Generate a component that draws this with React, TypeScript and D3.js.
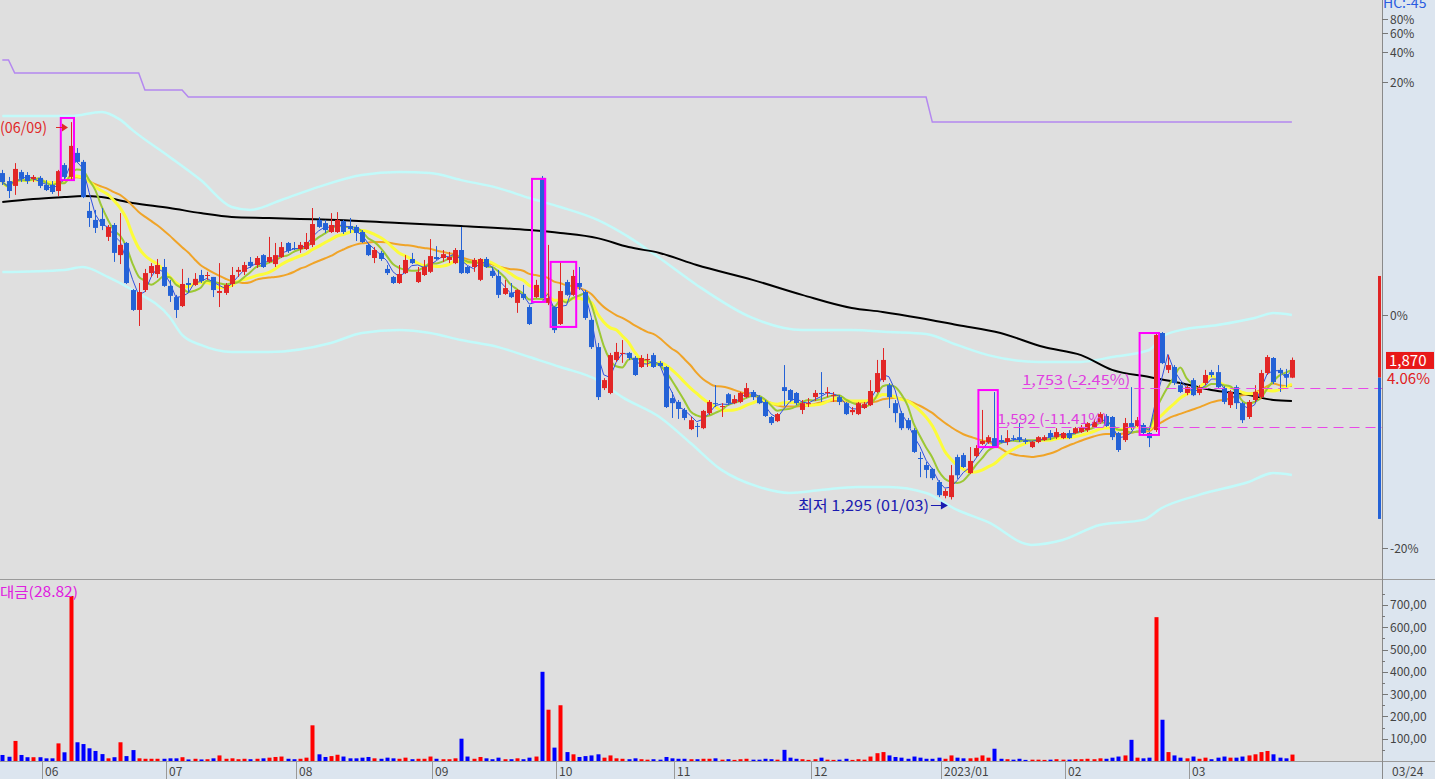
import React from 'react';
import * as d3 from 'd3';

// ---- candle data (daily, 2022/05/23 .. 2023/03/24) ----
const opens = [
  2640,2607,2587,2644,2632,2616,2620,2591,2591,2566,
  2673,2624,2723,2686,2484,2447,2451,2377,2426,2302,
  2352,2158,2076,2158,2228,2224,2253,2175,2129,2092,
  2187,2179,2220,2216,2212,2146,2146,2183,2233,2233,
  2274,2261,2302,2274,2265,2294,2352,2331,2327,2327,
  2344,2447,2434,2397,2397,2442,2422,2418,2397,2344,
  2290,2311,2245,2212,2187,2228,2286,2191,2220,2233,
  2294,2290,2282,2269,2323,2253,2253,2200,2286,2237,
  2216,2142,2146,2105,2142,2088,2129,2620,2105,2088,
  2018,2191,2138,2187,2150,2035,1923,1754,1734,1870,
  1895,1899,1878,1841,1870,1890,1858,1841,1713,1697,
  1664,1585,1598,1589,1651,1692,1676,1729,1692,1697,
  1717,1738,1717,1697,1635,1618,1758,1746,1734,1664,
  1688,1717,1734,1734,1721,1717,1692,1655,1647,1672,
  1684,1738,1787,1766,1692,1651,1622,1581,1466,1437,
  1421,1367,1310,1305,1470,1478,1404,1474,1524,1532,
  1548,1540,1532,1548,1552,1536,1511,1532,1540,1569,
  1552,1548,1569,1569,1573,1581,1594,1614,1639,1635,
  1569,1540,1610,1598,1602,1569,1581,1981,1829,1841,
  1766,1734,1787,1734,1775,1820,1820,1754,1684,1758,
  1692,1635,1705,1717,1816,1878,1829,1812,1797
];
const highs = [
  2653,2624,2681,2653,2644,2632,2628,2611,2607,2653,
  2681,2850,2743,2694,2521,2488,2496,2426,2434,2475,
  2356,2162,2187,2245,2269,2286,2286,2200,2138,2245,
  2208,2228,2241,2233,2212,2269,2187,2253,2253,2274,
  2294,2298,2306,2377,2352,2356,2356,2356,2356,2393,
  2496,2459,2447,2475,2479,2447,2455,2426,2405,2352,
  2335,2319,2261,2216,2261,2302,2311,2253,2282,2368,
  2339,2323,2315,2331,2418,2257,2290,2290,2294,2253,
  2241,2200,2187,2162,2179,2096,2200,2628,2344,2092,
  2274,2200,2241,2253,2158,2039,1940,1795,1899,1940,
  1952,1903,1886,1890,1895,1899,1866,1845,1738,1705,
  1672,1635,1610,1664,1705,1766,1692,1734,1725,1738,
  1775,1746,1725,1705,1639,1651,1849,1750,1738,1705,
  1713,1746,1820,1758,1738,1725,1697,1676,1697,1697,
  1787,1870,1919,1775,1705,1660,1631,1589,1491,1450,
  1425,1375,1340,1437,1480,1487,1511,1519,1664,1560,
  1738,1560,1581,1560,1610,1548,1536,1556,1560,1581,
  1589,1573,1581,1594,1602,1614,1627,1655,1647,1639,
  1573,1631,1758,1635,1610,1573,1981,1985,1890,1849,
  1779,1766,1795,1766,1829,1829,1849,1762,1746,1766,
  1697,1705,1766,1829,1890,1882,1837,1833,1880
];
const lows = [
  2591,2537,2550,2603,2595,2603,2578,2566,2554,2545,
  2611,2611,2681,2537,2418,2393,2405,2360,2274,2265,
  2183,2072,2010,2150,2212,2208,2171,2109,2043,2088,
  2146,2175,2187,2200,2129,2088,2138,2171,2212,2220,
  2249,2249,2249,2269,2253,2290,2311,2323,2311,2323,
  2335,2414,2393,2393,2393,2389,2393,2360,2352,2298,
  2269,2278,2220,2183,2183,2224,2265,2187,2216,2228,
  2282,2274,2269,2265,2224,2224,2233,2195,2249,2208,
  2125,2138,2125,2064,2117,2014,2125,2125,2096,1981,
  2014,2134,2134,2158,2035,1915,1705,1746,1729,1862,
  1858,1870,1804,1837,1841,1837,1841,1672,1631,1627,
  1622,1581,1552,1585,1643,1676,1635,1684,1688,1692,
  1713,1705,1688,1635,1602,1614,1680,1696,1684,1647,
  1676,1701,1697,1717,1697,1684,1643,1643,1643,1668,
  1680,1734,1779,1672,1613,1581,1581,1487,1387,1383,
  1375,1305,1300,1295,1380,1425,1400,1470,1519,1524,
  1507,1527,1519,1536,1532,1524,1507,1527,1536,1540,
  1544,1544,1544,1565,1569,1573,1589,1606,1594,1540,
  1491,1532,1581,1594,1560,1511,1573,1853,1816,1767,
  1734,1725,1721,1725,1766,1799,1754,1688,1672,1668,
  1610,1627,1697,1709,1808,1771,1738,1758,1795
];
const closes = [
  2603,2566,2657,2616,2607,2624,2587,2570,2562,2648,
  2624,2752,2686,2541,2455,2414,2422,2418,2311,2344,
  2187,2076,2150,2228,2257,2261,2175,2134,2076,2183,
  2179,2204,2195,2220,2158,2154,2179,2220,2241,2261,
  2257,2290,2253,2294,2302,2335,2319,2327,2344,2356,
  2430,2418,2405,2426,2447,2397,2409,2393,2356,2302,
  2323,2286,2228,2187,2224,2282,2269,2233,2253,2298,
  2286,2306,2294,2323,2228,2228,2282,2286,2253,2216,
  2138,2166,2129,2158,2125,2018,2179,2125,2125,1993,
  2154,2138,2216,2171,2043,1923,1717,1787,1890,1903,
  1899,1878,1808,1878,1874,1841,1845,1676,1692,1668,
  1631,1622,1594,1660,1697,1688,1680,1692,1709,1734,
  1754,1717,1692,1639,1610,1647,1742,1705,1692,1692,
  1692,1734,1729,1738,1725,1697,1647,1664,1692,1688,
  1742,1816,1870,1717,1651,1589,1589,1491,1462,1417,
  1383,1313,1330,1395,1395,1429,1454,1507,1536,1552,
  1511,1532,1548,1544,1540,1532,1532,1552,1552,1552,
  1573,1569,1548,1589,1594,1610,1614,1647,1598,1552,
  1499,1610,1594,1622,1569,1548,1973,1857,1849,1775,
  1738,1758,1725,1758,1808,1808,1758,1697,1738,1692,
  1622,1697,1738,1816,1882,1779,1816,1797,1870
];
// trading value (거래대금)
const volumes = [
  27,19,90,27,17,17,17,12,12,79,
  39,740,84,76,57,45,31,12,17,84,
  22,49,12,10,10,10,10,12,12,17,
  7,10,7,8,12,25,10,12,8,10,
  8,10,12,15,18,20,10,8,10,15,
  160,30,18,22,28,20,12,12,15,18,
  12,10,15,12,10,15,8,10,10,20,
  10,8,8,12,100,20,10,18,12,8,
  15,8,8,12,8,15,20,400,230,60,
  250,40,30,18,22,25,30,15,25,12,
  10,8,12,8,6,8,6,18,12,10,
  10,8,8,10,10,12,6,8,5,8,
  10,6,6,10,8,6,50,15,10,8,
  5,8,15,6,5,6,10,5,8,6,
  20,35,40,25,18,15,10,20,15,10,
  10,15,10,25,15,12,12,15,25,15,
  55,10,8,6,10,5,6,6,5,6,
  8,6,6,8,8,10,8,12,10,15,
  20,25,95,15,12,15,645,185,40,25,
  15,12,20,10,15,8,15,20,15,15,
  20,25,30,40,45,30,15,12,28.82
];

// month ticks (index of first trading day)
const monthTickIdx = [7, 27, 48, 70, 90, 109, 131, 152, 172, 192];
const monthLabels = ['06', '07', '08', '09', '10', '11', '12', '2023/01', '02', '03'];

// smooth indicator lines: [candle index, price]
const upperBand: [number, number][] = [
  [0, 2875], [11, 2875], [16, 2892], [19, 2860], [21, 2817], [27, 2706], [32, 2611], [37, 2500],
  [40, 2488], [45, 2529], [51, 2583], [58, 2632], [64, 2644], [69, 2640], [74, 2611],
  [80, 2578], [85, 2537], [90, 2500], [96, 2447], [101, 2377], [106, 2290], [112, 2179],
  [121, 2043], [129, 1993], [137, 1993], [143, 1985], [149, 1977], [154, 1932], [159, 1890],
  [167, 1862], [174, 1862], [179, 1882], [185, 1911], [187, 1965], [190, 1993], [196, 2014],
  [202, 2043], [205, 2063], [208, 2055]
];
const lowerBand: [number, number][] = [
  [0, 2232], [10, 2241], [13, 2253], [17, 2212], [21, 2158], [27, 2047], [29, 1973], [32, 1932],
  [37, 1903], [43, 1903], [53, 1940], [58, 1981], [64, 1993], [69, 1981], [74, 1952],
  [80, 1923], [85, 1882], [90, 1841], [96, 1787], [100, 1717], [106, 1635], [111, 1528],
  [116, 1417], [122, 1347], [127, 1322], [132, 1334], [138, 1347], [143, 1347], [149, 1322],
  [154, 1252], [159, 1202], [166, 1108], [171, 1128], [177, 1190], [184, 1211], [187, 1260],
  [193, 1314], [201, 1367], [205, 1404], [208, 1396]
];
const longMA: [number, number][] = [
  [0, 2521], [5, 2533], [10, 2541], [13, 2545], [16, 2541], [21, 2517], [27, 2496], [32, 2475],
  [37, 2459], [43, 2455], [48, 2451], [54, 2447], [64, 2434], [74, 2422], [85, 2405],
  [90, 2393], [96, 2372], [101, 2335], [106, 2311], [112, 2261], [121, 2200], [129, 2138],
  [137, 2084], [142, 2068], [148, 2043], [154, 2014], [161, 1981], [168, 1923], [174, 1890],
  [179, 1829], [185, 1800], [190, 1775], [195, 1746], [201, 1726], [205, 1705], [208, 1701]
];
// 52-week high steps: [from index, price]
const highSteps: [number, number][] = [[0, 3106], [2, 3052], [23, 2982], [30, 2953], [150, 2850]];

// highlight boxes: [from idx, to idx, top price, bottom price]
const boxes: [number, number, number, number][] = [
  [10, 11, 2867, 2611],
  [86, 87, 2616, 2109],
  [89, 92, 2274, 2006],
  [158, 160, 1746, 1511],
  [184, 186, 1981, 1561]
];

const refLines = [
  { price: 1753, label: '1,753 (-2.45%)', from: 165, width: 108 },
  { price: 1592, label: '1,592 (-11.41%)', from: 161, width: 110 }
];
const pctTicks = [80, 60, 40, 20, 0, -20];
const volTicks = [100, 200, 300, 400, 500, 600, 700];
const volMinor = [50, 150, 250, 350, 450, 550, 650, 750];
const lastPrice = 1870;
const lastChange = '4.06%';
const rangeBar = { top: 2216, mid: 1797, bottom: 1215 };

const FONT = "'Noto Sans CJK KR', 'DejaVu Sans', sans-serif";

export default function App() {
  const W = 1435;
  const H = 779;
  const plotR = 1382;
  const priceBottom = 578;
  const volTop = 580;
  const volBottom = 761;

  const n = closes.length;
  const x = d3.scaleLinear().domain([0, n - 1]).range([2.3, 1291.9]);
  const y = d3.scaleLinear().domain([1293, 2529]).range([500, 200]);
  const pctY = d3.scaleLinear().domain([-20, 0, 20, 40, 60, 80]).range([548, 315, 82, 52, 33, 19]);
  const vY = d3.scaleLinear().domain([0, 700]).range([volBottom, 604.9]);

  const ma = (p: number) =>
    closes.map((_, i) => [i, d3.mean(closes.slice(Math.max(0, i - p + 1), i + 1)) as number] as [number, number]);

  const straight = d3.line<[number, number]>().x(d => x(d[0])).y(d => y(d[1]));
  const smooth = d3.line<[number, number]>().x(d => x(d[0])).y(d => y(d[1])).curve(d3.curveMonotoneX);

  const highLine: [number, number][] = closes.map((_, i) => {
    let v = highSteps[0][1];
    for (const s of highSteps) if (i >= s[0]) v = s[1];
    return [i, v];
  });

  const bw = 5;
  const upColor = '#e22626';
  const downColor = '#2462d6';
  const snap = (v: number) => Math.round(v) + 0.5;

  const lowY = y(1295);
  const lowX = x(153);
  const hiY = y(2850);

  return (
    <div style={{ position: 'absolute', left: 0, top: 0, width: W, height: H }}>
      <svg width={W} height={H} style={{ display: 'block', fontFamily: FONT }}>
        <defs>
          <clipPath id="pclip"><rect x={0} y={0} width={plotR} height={priceBottom} /></clipPath>
          <clipPath id="vclip"><rect x={0} y={volTop} width={plotR} height={volBottom - volTop} /></clipPath>
        </defs>
        {/* backgrounds */}
        <rect x={0} y={0} width={W} height={H} fill="#dfdfdf" />
        <rect x={plotR} y={0} width={W - plotR} height={H} fill="#dce5ef" />
        <rect x={0} y={volBottom + 1} width={W} height={H - volBottom - 1} fill="#dce5ef" />

        {/* price panel */}
        <g clipPath="url(#pclip)">
          <path d={smooth(upperBand) || ''} fill="none" stroke="#c2fafa" strokeWidth={2.5} />
          <path d={smooth(lowerBand) || ''} fill="none" stroke="#c2fafa" strokeWidth={2.5} />
          <path d={straight(highLine) || ''} fill="none" stroke="#b488f0" strokeWidth={1.5} />
          <path d={smooth(longMA) || ''} fill="none" stroke="#000" strokeWidth={2} />
          <path d={smooth(ma(20)) || ''} fill="none" stroke="#f0a428" strokeWidth={2} />
          <path d={smooth(ma(10)) || ''} fill="none" stroke="#fcfc3a" strokeWidth={3} />
          <path d={smooth(ma(5)) || ''} fill="none" stroke="#9cc834" strokeWidth={2} />
          <path d={straight(ma(3)) || ''} fill="none" stroke="#3050e0" strokeWidth={1} />

          {closes.map((c, i) => {
            const o = opens[i];
            const up = c >= o;
            const col = up ? upColor : downColor;
            const cx = Math.round(x(i));
            const hi = Math.max(highs[i], o, c);
            const lo = Math.min(lows[i], o, c);
            const top = y(Math.max(o, c));
            const bot = y(Math.min(o, c));
            return (
              <g key={i}>
                <line x1={cx + 0.5} x2={cx + 0.5} y1={y(hi)} y2={y(lo)} stroke={col} strokeWidth={1} />
                <rect x={cx - 2} y={top} width={bw} height={Math.max(1, bot - top)} fill={col} />
              </g>
            );
          })}

          {boxes.map((b, k) => (
            <rect key={k} x={x(b[0]) - 3.5} y={y(b[2])} width={x(b[1]) - x(b[0]) + 7}
              height={y(b[3]) - y(b[2])} fill="none" stroke="#ff00ff" strokeWidth={2} />
          ))}

          {refLines.map((r, k) => (
            <g key={k}>
              <line x1={x(r.from) - 3} x2={plotR} y1={snap(y(r.price))} y2={snap(y(r.price))} stroke="#e848e8"
                strokeWidth={1} strokeDasharray="10,6" />
              <text x={x(r.from) - 3} y={y(r.price) - 3} fill="#e040e0" fontSize={14}
                textLength={r.width} lengthAdjust="spacingAndGlyphs">{r.label}</text>
            </g>
          ))}

          {/* high / low annotations */}
          <text x={0} y={hiY + 11} fill="#e02828" fontSize={15} textLength={47} lengthAdjust="spacingAndGlyphs">(06/09)</text>
          <line x1={56} x2={63} y1={snap(hiY + 5)} y2={snap(hiY + 5)} stroke="#e02828" strokeWidth={1} />
          <path d={`M${68},${snap(hiY + 5)} L${62},${snap(hiY + 5) - 4} L${62},${snap(hiY + 5) + 4} Z`} fill="#e02828" />

          <text x={lowX - 22} y={lowY + 11} fill="#1a1ab0" fontSize={15} textAnchor="end"
            textLength={131} lengthAdjust="spacingAndGlyphs">최저 1,295 (01/03)</text>
          <line x1={lowX - 20} x2={lowX - 9} y1={snap(lowY + 5)} y2={snap(lowY + 5)} stroke="#1a1ab0" strokeWidth={1} />
          <path d={`M${lowX - 3},${snap(lowY + 5)} L${lowX - 10},${snap(lowY + 5) - 4} L${lowX - 10},${snap(lowY + 5) + 4} Z`} fill="#1a1ab0" />
        </g>

        {/* volume panel */}
        <g clipPath="url(#vclip)">
          {volumes.map((v, i) => {
            const up = closes[i] >= opens[i];
            return (
              <rect key={i} x={Math.round(x(i)) - 1.5} y={vY(v)} width={4} height={vY(0) - vY(v)}
                fill={up ? '#ff0000' : '#0000ff'} />
            );
          })}
        </g>
        <text x={0} y={597} fill="#e020e0" fontSize={14} textLength={78} lengthAdjust="spacingAndGlyphs">대금(28.82)</text>

        {/* frame lines */}
        <line x1={0} x2={W} y1={579.5} y2={579.5} stroke="#9a9a9a" strokeWidth={1} />
        <line x1={0} x2={W} y1={volBottom + 0.5} y2={volBottom + 0.5} stroke="#9a9a9a" strokeWidth={1} />
        <line x1={plotR + 0.5} x2={plotR + 0.5} y1={0} y2={H} stroke="#8a8a8a" strokeWidth={1} />

        {/* range bar at right edge */}
        <rect x={plotR - 4} y={y(rangeBar.top)} width={3} height={y(rangeBar.mid) - y(rangeBar.top)} fill="#e02424" />
        <rect x={plotR - 4} y={y(rangeBar.mid)} width={3} height={y(rangeBar.bottom) - y(rangeBar.mid)} fill="#2462d6" />

        {/* right price axis (percent) */}
        {pctTicks.map(t => (
          <g key={t}>
            <line x1={plotR} x2={plotR + 6} y1={snap(pctY(t))} y2={snap(pctY(t))} stroke="#777" />
            <text x={plotR + 8} y={pctY(t) + 4.5} fontSize={12} fill="#444">{t}%</text>
          </g>
        ))}
        <text x={plotR + 1} y={8} fontSize={14} fill="#2a5ce0">HC:-45</text>

        {/* last price */}
        <rect x={plotR + 4} y={y(lastPrice) - 8} width={48} height={17} fill="#e81818" />
        <text x={plotR + 7} y={y(lastPrice) + 6} fontSize={15} fill="#ffffff">{d3.format(',')(lastPrice)}</text>
        <text x={plotR + 5} y={y(lastPrice) + 24} fontSize={15} fill="#e02020">{lastChange}</text>

        {/* volume axis */}
        {volTicks.map(t => (
          <g key={t}>
            <line x1={plotR} x2={plotR + 6} y1={snap(vY(t))} y2={snap(vY(t))} stroke="#777" />
            <text x={plotR + 8} y={vY(t) + 4.5} fontSize={12} fill="#444">{`${t},00`}</text>
          </g>
        ))}
        {volMinor.map(t => (
          <line key={t} x1={plotR} x2={plotR + 3} y1={snap(vY(t))} y2={snap(vY(t))} stroke="#777" />
        ))}

        {/* date axis */}
        {monthTickIdx.map((idx, k) => (
          <g key={idx}>
            <line x1={Math.round(x(idx)) - 3.5} x2={Math.round(x(idx)) - 3.5} y1={volBottom + 1} y2={H} stroke="#999" />
            <text x={Math.round(x(idx)) - 1} y={776} fontSize={12} fill="#444">{monthLabels[k]}</text>
          </g>
        ))}
        <text x={plotR + 10} y={776} fontSize={12} fill="#444">03/24</text>
      </svg>
    </div>
  );
}
